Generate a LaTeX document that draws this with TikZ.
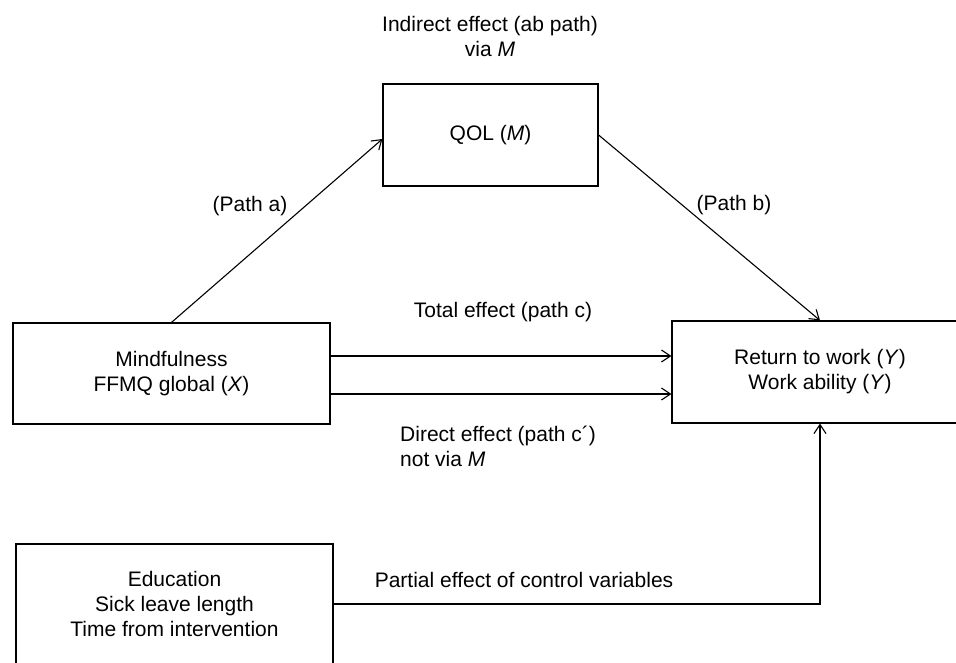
\documentclass[tikz,border=0pt]{standalone}
\usepackage{fontspec}
\setmainfont{Liberation Sans}
\usetikzlibrary{arrows.meta}
\tikzset{
	varbox/.style={draw,line width=1.2pt,align=center,inner sep=0pt},
	effect/.style={->,line width=1.1pt},
	lbl/.style={inner sep=0pt,align=center}
}
\begin{document}
\begin{tikzpicture}[x=1pt,y=-1pt,>={Straight Barb[length=9pt,width=12pt]},
	font=\fontsize{21}{25}\selectfont]
	\fill[white] (0,0) rectangle (956,662);
	\path[use as bounding box] (0,0) rectangle (956,662);
	\clip (0,0) rectangle (956,662);
	\path
	(490.5,135) node[varbox,minimum width=215pt,minimum height=102pt](qol){QOL (\textit{M})}
	(171.5,373.5) node[varbox,minimum width=317pt,minimum height=101pt](mind){Mindfulness\\FFMQ global (\textit{X})}
	(820,372) node[varbox,minimum width=296pt,minimum height=102pt](ret){Return to work (\textit{Y})\\Work ability (\textit{Y})}
	(174.5,604) node[varbox,minimum width=317pt,minimum height=120pt](ctrl){Education\\Sick leave length\\Time from intervention};
	\path
	(490,36.5) node[lbl](lblind){Indirect effect (ab path)\\via \textit{M}}
	(250,206) node[lbl](lbla){(Path a)}
	(734,205) node[lbl](lblb){(Path b)}
	(503,312) node[lbl](lbltot){Total effect (path c)}
	(400,446) node[lbl,anchor=west,align=left](lbldir){Direct effect (path c´)\\not via \textit{M}}
	(524,580) node[lbl](lblctrl){Partial effect of control variables};
	\draw[effect] (mind.north) -- ([yshift=-4pt]qol.west);
	\draw[effect] (qol.east) -- (ret.north);
	\draw[effect] ([yshift=17.5pt]mind.east) -- ([yshift=17.5pt]mind.east -| ret.west);
	\draw[effect] ([yshift=-20.5pt]mind.east) -- ([yshift=-20.5pt]mind.east -| ret.west);
	\draw[effect] (ctrl.east) -| (ret.south);
\end{tikzpicture}
\end{document}
